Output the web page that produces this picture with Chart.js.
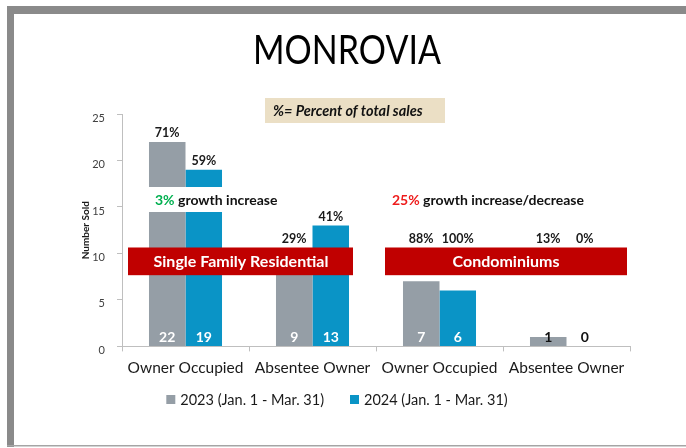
<!DOCTYPE html>
<html>
<head>
<meta charset="utf-8">
<script src="https://cdn.jsdelivr.net/npm/chart.js@4.4.0/dist/chart.umd.min.js"></script>
<style>
  html, body { margin: 0; padding: 0; background: #fff; }
  #wrap { width: 686px; height: 448px; position: relative; }
</style>
</head>
<body>
<div id="wrap"><canvas id="salesChart"></canvas></div>
<script>
// Sales counts, Jan. 1 - Mar. 31
const categories = ['Owner Occupied', 'Absentee Owner', 'Owner Occupied', 'Absentee Owner'];
const sold2023 = [22, 9, 7, 1];
const sold2024 = [19, 13, 6, 0];
const pct2023 = ['71%', '29%', '88%', '13%'];
const pct2024 = ['59%', '41%', '100%', '0%'];
const seriesNames = ['2023 (Jan. 1 - Mar. 31)', '2024 (Jan. 1 - Mar. 31)'];
const yMax = 25;
const yStep = 5;

const GREY = '#959ea6';
const BLUE = '#0a94c6';
const RED = '#c00000';
const FONT = 'Lato';

// slide frame, title, key box, banners, labels and legend
const slideDecor = {
  id: 'slideDecor',
  beforeDraw(chart) {
    const { ctx } = chart;
    ctx.save();
    ctx.fillStyle = '#fff';
    ctx.fillRect(0, 0, chart.width, chart.height);
    ctx.fillStyle = '#8a8a8a';
    ctx.fillRect(7, 6, chart.width - 7, 8);
    ctx.fillRect(7, 6, 7, 441);
    ctx.fillStyle = '#a5a5a5';
    ctx.fillRect(7, 445, chart.width - 7, 1.5);

    ctx.textAlign = 'center';
    ctx.textBaseline = 'middle';
    ctx.fillStyle = '#000';
    ctx.font = `40px ${FONT}`;
    ctx.save();
    ctx.translate(347, 51);
    ctx.scale(0.85, 1);
    ctx.fillText('MONROVIA', 0, 0);
    ctx.restore();

    ctx.fillStyle = '#ebdfc5';
    ctx.fillRect(265, 98, 180, 25);
    ctx.fillStyle = '#111';
    ctx.textAlign = 'left';
    ctx.font = `italic bold 14.5px ${FONT}`;
    ctx.fillText('%= Percent of total sales', 273, 111);

    // series key under the axis
    ctx.font = `14.5px ${FONT}`;
    const items = chart.data.datasets.map(ds => ({
      color: ds.backgroundColor,
      text: ds.label,
      w: 9 + 5 + ctx.measureText(ds.label).width
    }));
    const gap = 26;
    const total = items.reduce((s, it) => s + it.w, 0) + gap * (items.length - 1);
    let lx = 337 - total / 2;
    items.forEach(it => {
      ctx.fillStyle = it.color;
      ctx.fillRect(lx, 395, 9, 9);
      ctx.fillStyle = '#1a1a1a';
      ctx.fillText(it.text, lx + 14, 400);
      lx += it.w + gap;
    });
    ctx.restore();
  },
  afterDatasetsDraw(chart) {
    const { ctx } = chart;
    const y = chart.scales.y;
    const m0 = chart.getDatasetMeta(0).data;
    const m1 = chart.getDatasetMeta(1).data;
    ctx.save();

    // white strip behind the first growth note
    const gx0 = m0[0].x - m0[0].width / 2 - 1;
    const gx1 = m1[0].x + m1[0].width / 2 + 1;
    ctx.fillStyle = '#fff';
    ctx.fillRect(gx0, 187, gx1 - gx0, 25);

    // growth notes
    ctx.textBaseline = 'middle';
    ctx.textAlign = 'left';
    ctx.font = `bold 14px ${FONT}`;
    let x = 155;
    ctx.fillStyle = '#00b050';
    ctx.fillText('3%', x, 200);
    x += ctx.measureText('3% ').width;
    ctx.fillStyle = '#111';
    ctx.fillText('growth increase', x, 200);
    x = 392;
    ctx.fillStyle = '#ee1c1c';
    ctx.fillText('25%', x, 200);
    x += ctx.measureText('25% ').width;
    ctx.fillStyle = '#111';
    ctx.fillText('growth increase/decrease', x, 200);

    // section banners
    const bTop = y.getPixelForValue(10.64);
    const bBot = y.getPixelForValue(7.66);
    ctx.fillStyle = RED;
    ctx.fillRect(128, bTop, 225, bBot - bTop);
    ctx.fillRect(385, bTop, 242, bBot - bTop);
    ctx.fillStyle = '#fff';
    ctx.textAlign = 'center';
    ctx.font = `bold 16px ${FONT}`;
    ctx.fillText('Single Family Residential', 241, (bTop + bBot) / 2 + 1);
    ctx.fillText('Condominiums', 506, (bTop + bBot) / 2 + 1);

    // percent of total sales above each bar
    ctx.font = `bold 12.5px ${FONT}`;
    ctx.fillStyle = '#1a1a1a';
    [[m0, pct2023], [m1, pct2024]].forEach(([bars, pcts]) => {
      bars.forEach((bar, i) => {
        const top = Math.min(bar.y, bTop);
        ctx.fillText(pcts[i], bar.x, top - 9);
      });
    });

    // counts at the foot of each bar
    ctx.font = `bold 14px ${FONT}`;
    [[m0, sold2023], [m1, sold2024]].forEach(([bars, vals]) => {
      bars.forEach((bar, i) => {
        ctx.fillStyle = vals[i] >= 3 ? '#fff' : '#111';
        ctx.fillText(String(vals[i]), bar.x, y.getPixelForValue(0) - 9);
      });
    });
    ctx.restore();
  }
};

new Chart(document.getElementById('salesChart'), {
  type: 'bar',
  data: {
    labels: categories,
    datasets: [
      { label: seriesNames[0], data: sold2023, backgroundColor: GREY },
      { label: seriesNames[1], data: sold2024, backgroundColor: BLUE }
    ]
  },
  options: {
    responsive: true,
    maintainAspectRatio: false,
    animation: false,
    categoryPercentage: 0.575,
    barPercentage: 1.0,
    layout: { padding: { left: 80, right: 56, top: 114, bottom: 64 } },
    plugins: {
      legend: { display: false },
      tooltip: { enabled: false }
    },
    scales: {
      y: {
        min: 0,
        max: yMax,
        ticks: { stepSize: yStep, color: '#404040', padding: 12, labelOffset: 4, font: { family: FONT, size: 11 } },
        grid: { drawOnChartArea: false, tickLength: 5, color: '#bfbfbf' },
        border: { color: '#bfbfbf' },
        title: { display: true, text: 'Number Sold', color: '#1a1a1a', padding: 0, font: { family: FONT, size: 10, weight: 'bold' } },
        afterFit(scale) { scale.width = 42; }
      },
      x: {
        ticks: { color: '#1a1a1a', padding: 7, autoSkip: false, maxRotation: 0, font: { family: FONT, size: 15.5 } },
        grid: { drawOnChartArea: false, tickLength: 5, color: '#bfbfbf' },
        border: { color: '#bfbfbf' }
      }
    }
  },
  plugins: [slideDecor]
});
</script>
</body>
</html>
